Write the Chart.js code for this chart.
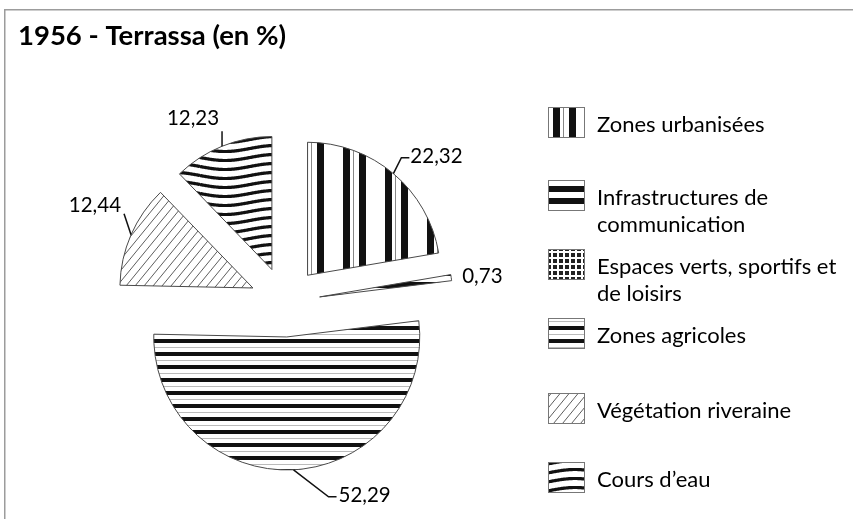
<!DOCTYPE html>
<html>
<head>
<meta charset="utf-8">
<script src="https://cdn.jsdelivr.net/npm/chart.js@4.4.1/dist/chart.umd.min.js"></script>
<style>
  html, body { margin: 0; padding: 0; background: #fff; }
  canvas { display: block; }
</style>
</head>
<body>
<canvas id="c" width="853" height="519"></canvas>
<script>
// ---- Data ----
const TITLE = '1956 - Terrassa (en %)';
const CATEGORIES = [
  'Zones urbanisées',
  'Infrastructures de communication',
  'Espaces verts, sportifs et de loisirs',
  'Zones agricoles',
  'Végétation riveraine',
  "Cours d’eau"
];
const VALUES = [22.32, 0.73, 0, 52.29, 12.44, 12.23];

// ---- Style / layout ----
const FONT = 'Lato, "Open Sans", sans-serif';
const EXPLODE = 35;      // distance each slice is pulled out
const PIE_RADIUS = 133;
// leader line points (relative to slice's outer mid point) and text anchor
const LABEL_STYLE = [
  { pts: [[8, -16], [16, -16]], tx: 17, ty: -17, align: 'left' },
  { pts: [], tx: 11, ty: -1, align: 'left' },
  null,
  { pts: [[35, 27], [43, 27]], tx: 45, ty: 26, align: 'left' },
  { pts: [[-7, -21]], tx: -10, ty: -29, align: 'right' },
  { pts: [[0, -15]], tx: -29, ty: -28, align: 'center' }
];
const LEGEND_X = 548, LEGEND_TEXT_X = 597, BOX_W = 37, BOX_H = 31;
const LEGEND_BOX_TOP = [107, 180, 249, 318, 393, 462];
const LEGEND_WRAP = 250, LEGEND_LINE_H = 27;

const canvas = document.getElementById('c');
const ctx = canvas.getContext('2d');

function makePattern(w, h, draw, dx, dy) {
  const c = document.createElement('canvas');
  c.width = w; c.height = h;
  const g = c.getContext('2d');
  g.fillStyle = '#fff'; g.fillRect(0, 0, w, h);
  draw(g, w, h);
  const p = ctx.createPattern(c, 'repeat');
  if (dx || dy) p.setTransform(new DOMMatrix().translate(dx || 0, dy || 0));
  return p;
}

const patUrban = makePattern(42, 4, (g) => {
  g.fillStyle = '#111';
  g.fillRect(0, 0, 7, 4);
  g.fillRect(26, 0, 7, 4);
  g.fillStyle = '#888';
  g.fillRect(36, 0, 1, 4);
}, 23, 0);
const patInfra = makePattern(4, 12, (g) => {
  g.fillStyle = '#111'; g.fillRect(0, 0, 4, 6);
}, 0, 6);
const patGreen = makePattern(6, 6, (g) => {
  g.fillStyle = '#222'; g.fillRect(1, 1, 4, 4);
});
const patAgri = makePattern(4, 13, (g) => {
  g.fillStyle = '#111'; g.fillRect(0, 0, 4, 4);
  g.fillStyle = '#bbb'; g.fillRect(0, 8, 4, 1);
}, 0, 1);
const patVeg = makePattern(9, 11, (g, w, h) => {
  g.strokeStyle = '#333'; g.lineWidth = 0.8;
  g.beginPath();
  g.moveTo(0, h); g.lineTo(w, 0);
  g.moveTo(-w, h); g.lineTo(0, 0);
  g.moveTo(w, h); g.lineTo(2 * w, 0);
  g.stroke();
});
const patWater = makePattern(100, 9, (g, w, h) => {
  g.strokeStyle = '#111'; g.lineWidth = 3.2;
  for (const off of [-h, 0, h]) {
    g.beginPath();
    for (let x = 0; x <= w; x++) {
      const y = 4.5 + off + 3 * Math.sin(2 * Math.PI * x / w);
      if (x === 0) g.moveTo(x, y); else g.lineTo(x, y);
    }
    g.stroke();
  }
});
const PATTERNS = [patUrban, patInfra, patGreen, patAgri, patVeg, patWater];

const fmt = (v) => v.toFixed(2).replace('.', ',');

const backgroundPlugin = {
  id: 'bgFrame',
  beforeDraw(chart) {
    const c = chart.ctx;
    c.save();
    c.fillStyle = '#fff';
    c.fillRect(0, 0, chart.width, chart.height);
    c.fillStyle = '#9c9c9c';
    c.fillRect(4, 9, chart.width - 4, 1.5);
    c.fillRect(4, 9, 1.5, chart.height - 9);
    c.fillStyle = '#000';
    c.font = 'bold 27.5px ' + FONT;
    c.textBaseline = 'alphabetic';
    c.textAlign = 'left';
    c.fillText(TITLE, 18, 45);
    c.restore();
  }
};

const explodePlugin = {
  id: 'explode',
  afterDatasetUpdate(chart, args) {
    args.meta.data.forEach((arc) => {
      const mid = (arc.startAngle + arc.endAngle) / 2;
      arc.x += EXPLODE * Math.cos(mid);
      arc.y += EXPLODE * Math.sin(mid);
    });
  }
};

const labelPlugin = {
  id: 'valueLabels',
  afterDatasetsDraw(chart) {
    const c = chart.ctx;
    const meta = chart.getDatasetMeta(0);
    c.save();
    c.font = '20.5px ' + FONT;
    c.fillStyle = '#000';
    c.strokeStyle = '#111';
    c.lineWidth = 1.5;
    c.textBaseline = 'middle';
    meta.data.forEach((arc, i) => {
      const st = LABEL_STYLE[i];
      if (!st || !VALUES[i]) return;
      const mid = (arc.startAngle + arc.endAngle) / 2;
      const px = arc.x + arc.outerRadius * Math.cos(mid);
      const py = arc.y + arc.outerRadius * Math.sin(mid);
      if (st.pts.length) {
        c.beginPath();
        c.moveTo(px, py);
        st.pts.forEach(([dx, dy]) => c.lineTo(px + dx, py + dy));
        c.stroke();
      }
      c.textAlign = st.align;
      c.fillText(fmt(VALUES[i]), px + st.tx, py + st.ty);
    });
    c.restore();
  }
};

function wrap(c, text, maxW) {
  const words = text.split(' ');
  const lines = [];
  let cur = '';
  words.forEach((w) => {
    const t = cur ? cur + ' ' + w : w;
    if (c.measureText(t).width > maxW && cur) { lines.push(cur); cur = w; }
    else cur = t;
  });
  if (cur) lines.push(cur);
  return lines;
}

const legendPlugin = {
  id: 'patternLegend',
  afterDraw(chart) {
    const c = chart.ctx;
    const labels = chart.data.labels;
    const bgs = chart.data.datasets[0].backgroundColor;
    c.save();
    c.font = '22px ' + FONT;
    c.textBaseline = 'middle';
    c.textAlign = 'left';
    labels.forEach((lab, i) => {
      const top = LEGEND_BOX_TOP[i];
      c.fillStyle = bgs[i];
      c.fillRect(LEGEND_X, top, BOX_W, BOX_H);
      c.strokeStyle = '#777';
      c.lineWidth = 1;
      c.strokeRect(LEGEND_X + 0.5, top + 0.5, BOX_W - 1, BOX_H - 1);
      c.fillStyle = '#000';
      const lines = wrap(c, lab, LEGEND_WRAP);
      lines.forEach((ln, k) => {
        c.fillText(ln, LEGEND_TEXT_X, top + 18 + k * LEGEND_LINE_H);
      });
    });
    c.restore();
  }
};

new Chart(ctx, {
  type: 'pie',
  data: {
    labels: CATEGORIES,
    datasets: [{
      data: VALUES,
      backgroundColor: PATTERNS,
      borderColor: '#4a4a4a',
      borderWidth: 1,
      radius: PIE_RADIUS
    }]
  },
  options: {
    responsive: false,
    animation: false,
    events: [],
    layout: { padding: { left: 20, right: 303, top: 85, bottom: 0 } },
    plugins: {
      legend: { display: false },
      title: { display: false },
      tooltip: { enabled: false }
    }
  },
  plugins: [backgroundPlugin, explodePlugin, labelPlugin, legendPlugin]
});
</script>
</body>
</html>
